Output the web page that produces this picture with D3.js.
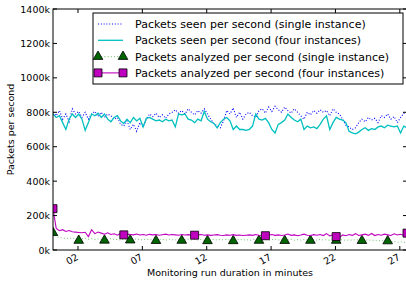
<!DOCTYPE html>
<html>
<head>
<meta charset="utf-8">
<script src="https://cdn.jsdelivr.net/npm/d3@7"></script>
<style>
body { margin: 0; background: #fff; }
text { font-family: "DejaVu Sans", sans-serif; fill: #000; }
</style>
</head>
<body>
<svg id="chart" width="406" height="293"></svg>
<script>
// samples every 15 s, values in thousands of packets per second
var startTime = new Date(2011, 0, 1, 10, 0, 3, 500)
var sampleSeconds = 15

var seenSingle = [800, 780, 810, 760, 790, 745, 820, 790, 805, 770, 800, 760, 790, 805, 775, 800, 770, 790, 780, 760,
    770, 730, 720, 750, 700, 730, 690, 740, 715, 760, 790, 775, 795, 770, 785, 765, 790, 800, 815, 795,
    810, 790, 820, 800, 785, 810, 795, 820, 790, 760, 735, 720, 710, 750, 810, 790, 825, 770, 800, 760,
    790, 800, 780, 770, 810, 820, 795, 830, 805, 835, 815, 800, 830, 810, 795, 820, 800, 780, 760, 800,
    785, 810, 795, 815, 800, 810, 780, 820, 800, 790, 760, 725, 715, 700, 710, 740, 760, 745, 770, 755,
    765, 740, 780, 770, 790, 760, 775, 740, 770, 795, 790]

var seenFour = [790, 770, 780, 740, 700, 760, 790, 770, 790, 760, 695, 740, 790, 780, 795, 770, 790, 760, 745, 770,
    780, 750, 735, 760, 740, 770, 750, 765, 715, 765, 770, 760, 750, 755, 745, 760, 750, 755, 715, 790,
    785, 790, 760, 755, 740, 760, 750, 805, 760, 745, 735, 710, 740, 760, 770, 750, 700, 720, 700, 700,
    695, 700, 720, 790, 760, 755, 765, 740, 700, 680, 730, 740, 755, 790, 770, 755, 745, 760, 700, 720,
    710, 715, 705, 730, 760, 780, 700, 740, 770, 760, 755, 740, 690, 680, 675, 685, 700, 710, 695, 705,
    700, 715, 720, 710, 725, 720, 715, 720, 680, 720, 710]

var analyzedSingle = [100, 78, 72, 70, 68, 66, 70, 64, 55, 65, 68, 62, 66, 60, 64, 62, 56, 63, 66, 60,
    62, 58, 64, 60, 57, 62, 65, 58, 60, 63, 59, 61, 54, 60, 62, 57, 63, 60, 58, 62,
    55, 60, 63, 58, 61, 59, 62, 57, 53, 60, 62, 58, 61, 59, 62, 57, 53, 60, 62, 58,
    61, 56, 60, 63, 55, 59, 61, 57, 60, 62, 58, 60, 54, 59, 62, 57, 60, 58, 61, 59,
    55, 60, 57, 62, 58, 60, 56, 59, 55, 58, 60, 56, 59, 57, 60, 58, 54, 57, 59, 55,
    58, 53, 56, 50, 52, 48, 50, 45, 48, 44, 46]

var analyzedFour = [240, 125, 112, 118, 108, 113, 106, 104, 102, 100, 103, 78, 118, 95, 104, 98, 92, 100, 90, 94,
    86, 96, 88, 92, 90, 88, 93, 87, 90, 86, 91, 88, 90, 86, 89, 92, 87, 90, 88, 86,
    90, 87, 89, 85, 86, 88, 90, 86, 88, 85, 87, 89, 86, 84, 88, 86, 89, 85, 87, 84,
    86, 88, 85, 90, 86, 84, 83, 87, 90, 85, 88, 84, 87, 93, 85, 88, 83, 87, 92, 86,
    84, 89, 86, 90, 84, 95, 82, 88, 78, 72, 88, 83, 90, 85, 95, 84, 88, 92, 85, 96,
    84, 90, 86, 92, 88, 84, 94, 87, 91, 86, 98]

var tickMinutes = [2, 7, 12, 17, 22, 27]
var yTicks = [0, 200, 400, 600, 800, 1000, 1200, 1400]
var legendLabels = ["Packets seen per second (single instance)",
    "Packets seen per second (four instances)",
    "Packets analyzed per second (single instance)",
    "Packets analyzed per second (four instances)"]

var svg = d3.select("#chart")
var plotL = 53, plotR = 407, plotT = 9, plotB = 250

function timeAt(i) {
    return new Date(startTime.getTime() + i * sampleSeconds * 1000)
}

var x = d3.scaleTime()
    .domain([startTime, timeAt(seenSingle.length - 1)])
    .range([plotL, plotR])
var y = d3.scaleLinear().domain([0, 1400]).range([plotB, plotT])

svg.append("defs").append("clipPath").attr("id", "plotclip")
    .append("rect")
    .attr("x", plotL).attr("y", plotT)
    .attr("width", plotR - plotL).attr("height", plotB - plotT)

var plot = svg.append("g").attr("clip-path", "url(#plotclip)")

var line = d3.line()
    .x(function (d, i) { return x(timeAt(i)) })
    .y(function (d) { return y(d) })

var series = [
    {data: seenSingle, color: "#0000ff", width: 1.1, dash: "1,1.8"},
    {data: seenFour, color: "#00bfbf", width: 1.3, dash: null},
    {data: analyzedSingle, color: "#7fc97f", width: 1.1, dash: "1,2.2", marker: "tri", every: 8, fill: "#006400"},
    {data: analyzedFour, color: "#bf00bf", width: 1.1, dash: null, marker: "sq", every: 22, fill: "#bf00bf"}
]

var triangle = d3.symbol().type(d3.symbolTriangle).size(40)
var square = d3.symbol().type(d3.symbolSquare).size(64)

series.forEach(function (s) {
    plot.append("path")
        .datum(s.data)
        .attr("d", line)
        .attr("fill", "none")
        .attr("stroke", s.color)
        .attr("stroke-width", s.width)
        .attr("stroke-dasharray", s.dash)

    if (s.marker) {
        var pts = s.data.map(function (d, i) { return {v: d, i: i} })
            .filter(function (d) { return d.i % s.every == 0 })
        plot.selectAll(null)
            .data(pts)
            .enter()
            .append("path")
            .attr("d", s.marker == "tri" ? triangle : square)
            .attr("transform", function (d) {
                return "translate(" + x(timeAt(d.i)) + "," + y(d.v) + ")"
            })
            .attr("fill", s.fill)
            .attr("stroke", "#000")
            .attr("stroke-width", 0.8)
    }
})

// frame
svg.append("rect")
    .attr("x", plotL).attr("y", plotT)
    .attr("width", plotR - plotL).attr("height", plotB - plotT)
    .attr("fill", "none").attr("stroke", "#000").attr("stroke-width", 1)

var tickTimes = tickMinutes.map(function (m) { return new Date(2011, 0, 1, 10, m) })

// inward ticks on all sides
var g = svg.append("g").attr("stroke", "#000").attr("stroke-width", 1)
tickTimes.forEach(function (t) {
    g.append("line").attr("x1", x(t)).attr("x2", x(t)).attr("y1", plotB).attr("y2", plotB - 4)
    g.append("line").attr("x1", x(t)).attr("x2", x(t)).attr("y1", plotT).attr("y2", plotT + 4)
})
yTicks.forEach(function (v) {
    g.append("line").attr("x1", plotL).attr("x2", plotL + 4).attr("y1", y(v)).attr("y2", y(v))
    g.append("line").attr("x1", plotR).attr("x2", plotR - 4).attr("y1", y(v)).attr("y2", y(v))
})

var fmt = d3.timeFormat("%M")
svg.selectAll(".xlab")
    .data(tickTimes)
    .enter()
    .append("text")
    .attr("class", "xlab")
    .attr("text-anchor", "end")
    .attr("font-size", 9.5)
    .attr("transform", function (d) {
        return "translate(" + (x(d) + 1) + "," + (plotB + 9) + ") rotate(-30)"
    })
    .text(fmt)

svg.selectAll(".ylab")
    .data(yTicks)
    .enter()
    .append("text")
    .attr("class", "ylab")
    .attr("text-anchor", "end")
    .attr("font-size", 9.5)
    .attr("x", plotL - 3)
    .attr("y", function (d) { return y(d) + 3.5 })
    .text(function (d) { return d + "k" })

svg.append("text")
    .attr("text-anchor", "middle")
    .attr("font-size", 9.5)
    .attr("x", (plotL + plotR) / 2)
    .attr("y", 276)
    .text("Monitoring run duration in minutes")

svg.append("text")
    .attr("text-anchor", "middle")
    .attr("font-size", 9.5)
    .attr("transform", "translate(14," + ((plotT + plotB) / 2) + ") rotate(-90)")
    .text("Packets per second")

// legend
var lg = svg.append("g")
lg.append("rect")
    .attr("x", 93).attr("y", 13).attr("width", 310).attr("height", 71)
    .attr("fill", "#fff").attr("stroke", "#000").attr("stroke-width", 1)

series.forEach(function (s, k) {
    var ry = 24 + k * 16.3
    lg.append("line")
        .attr("x1", 98).attr("x2", 123).attr("y1", ry).attr("y2", ry)
        .attr("stroke", s.color).attr("stroke-width", s.width)
        .attr("stroke-dasharray", s.dash)
    if (s.marker) {
        [98, 123].forEach(function (mx) {
            lg.append("path")
                .attr("d", s.marker == "tri" ? triangle : square)
                .attr("transform", "translate(" + mx + "," + ry + ")")
                .attr("fill", s.fill).attr("stroke", "#000").attr("stroke-width", 0.8)
        })
    }
    lg.append("text")
        .attr("x", 135).attr("y", ry + 4)
        .attr("font-size", 11)
        .text(legendLabels[k])
})
</script>
</body>
</html>
